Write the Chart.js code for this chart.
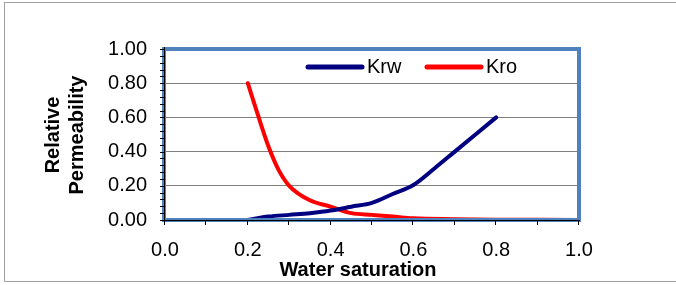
<!DOCTYPE html>
<html lang='en'>
<head>
    <meta charset='UTF-8'>
    <title>Relative Permeability</title>
    <script src="https://cdnjs.cloudflare.com/ajax/libs/Chart.js/4.4.0/chart.umd.min.js"></script>
    <style>
        html, body { margin: 0; padding: 0; background: #fff; }
        #chart_parent { width: 676px; height: 285px; }
    </style>
</head>
<body>
<div id="chart_parent">
    <canvas id="myChart" width="676" height="285"></canvas>
</div>
<script>
    // water curve (Krw)
    var v_swW = [0.2, 0.25, 0.3, 0.35, 0.4, 0.45, 0.5, 0.55, 0.6, 0.65, 0.7, 0.75, 0.8];
    var v_krw = [0, 0.02, 0.03, 0.04, 0.055, 0.078, 0.1, 0.152, 0.205, 0.3, 0.4, 0.5, 0.6];
    // oil curve (Kro)
    var v_swO = [0.2, 0.225, 0.25, 0.275, 0.3, 0.35, 0.4, 0.45, 0.5, 0.55, 0.6, 0.7, 0.8, 0.9, 1.0];
    var v_kro = [0.8, 0.61, 0.43, 0.29, 0.2, 0.115, 0.078, 0.04, 0.03, 0.02, 0.01, 0.005, 0.002, 0.001, 0];
    var v_labels = ['Krw', 'Kro'];
    var v_colors = ['#000080', '#FF0000'];
    var v_xTitle = 'Water saturation';
    var v_yTitle = ['Relative', 'Permeability'];

    var f_pts = function(xs, ys){
        var v_arr = [];
        for(var i=0; i<xs.length; i++){
            v_arr.push({x: xs[i], y: ys[i]});
        }
        return v_arr;
    };

    var FONT = '"Liberation Sans", Arial, sans-serif';

    // frame, plot border, axis ticks, titles, legend
    var v_deco = {
        id: 'deco',
        beforeDraw: function(chart){
            var c = chart.ctx;
            c.save();
            c.fillStyle = '#fff';
            c.fillRect(0, 0, chart.width, chart.height);
            c.strokeStyle = '#a0a0a0';
            c.lineWidth = 1;
            c.strokeRect(4.5, 2.5, chart.width + 10, 279);
            c.restore();
        },
        afterDraw: function(chart){
            var c = chart.ctx;
            var a = chart.chartArea;
            var sx = chart.scales.x, sy = chart.scales.y;
            c.save();
            // blue border round the plot
            c.strokeStyle = '#4F81BD';
            c.lineWidth = 4;
            c.strokeRect(a.left - 1, a.top, a.right - a.left + 1, a.bottom - a.top);
            // black axes
            c.strokeStyle = '#000';
            c.lineWidth = 1;
            c.beginPath();
            c.moveTo(a.left - 0.5, a.top - 2);
            c.lineTo(a.left - 0.5, a.bottom + 0.5);
            c.lineTo(a.right + 1, a.bottom + 0.5);
            for(var i=0; i<=25; i++){
                var y = Math.round(sy.getPixelForValue(i*0.04)) + 0.5;
                c.moveTo(a.left - 5, y);
                c.lineTo(a.left, y);
            }
            for(var j=0; j<=10; j++){
                var x = Math.round(sx.getPixelForValue(j*0.1)) - 0.5;
                c.moveTo(x, a.bottom);
                c.lineTo(x, a.bottom + 5);
            }
            c.stroke();

            // axis titles
            c.fillStyle = '#000';
            c.font = 'bold 20px ' + FONT;
            c.textAlign = 'center';
            c.textBaseline = 'middle';
            c.fillText(v_xTitle, 358, 270);
            c.translate(65, 135);
            c.rotate(-Math.PI/2);
            c.fillText(v_yTitle[0], 0, -12);
            c.fillText(v_yTitle[1], 0, 12);
            c.setTransform(1, 0, 0, 1, 0, 0);

            // legend
            var lx = [308, 427];
            c.font = '20px ' + FONT;
            c.textAlign = 'left';
            c.lineCap = 'round';
            c.lineWidth = 5;
            for(var k=0; k<2; k++){
                c.strokeStyle = v_colors[k];
                c.beginPath();
                c.moveTo(lx[k], 67);
                c.lineTo(lx[k] + 54, 67);
                c.stroke();
                c.fillText(v_labels[k], lx[k] + 59, 67);
            }
            c.restore();
        }
    };

    const ctx = document.getElementById('myChart').getContext('2d');
    const myChart = new Chart(ctx, {
        type: 'line',
        data: {
            datasets: [{
                label: v_labels[0],
                data: f_pts(v_swW, v_krw),
                borderColor: v_colors[0],
                borderWidth: 4,
                cubicInterpolationMode: 'monotone',
                pointRadius: 0,
                borderCapStyle: 'round'
            }, {
                label: v_labels[1],
                data: f_pts(v_swO, v_kro),
                borderColor: v_colors[1],
                borderWidth: 4,
                cubicInterpolationMode: 'monotone',
                pointRadius: 0,
                borderCapStyle: 'round'
            }]
        },
        options: {
            responsive: false,
            animation: false,
            devicePixelRatio: 1,
            layout: { padding: { left: 0, right: 97, top: 49, bottom: 0 } },
            plugins: { legend: { display: false }, tooltip: { enabled: false } },
            scales: {
                x: {
                    type: 'linear', min: 0, max: 1,
                    afterFit: function(s){ s.height = 65; },
                    grid: { display: false },
                    border: { display: false },
                    ticks: {
                        stepSize: 0.2, padding: 10, color: '#000',
                        font: { family: FONT, size: 20 },
                        callback: function(v){ return v.toFixed(1); }
                    }
                },
                y: {
                    min: 0, max: 1,
                    afterFit: function(s){ s.width = 165; },
                    grid: { color: '#808080', lineWidth: 1, drawTicks: false },
                    border: { display: false },
                    ticks: {
                        stepSize: 0.2, padding: 18, color: '#000',
                        font: { family: FONT, size: 20 },
                        callback: function(v){ return v.toFixed(2); }
                    }
                }
            }
        },
        plugins: [v_deco]
    });
</script>
</body>
</html>
